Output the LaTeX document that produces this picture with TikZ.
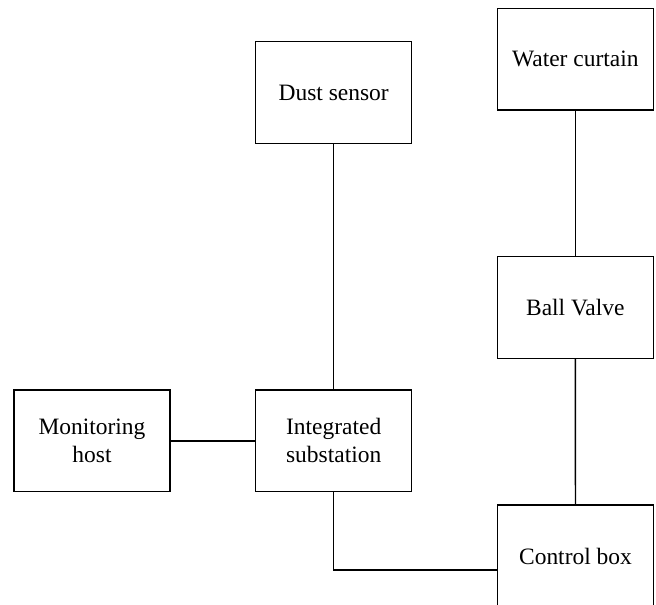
\documentclass[tikz,border=0pt]{standalone}
\usepackage{fontspec}
\setmainfont{Liberation Serif}
\begin{document}
\begin{tikzpicture}[x=0.75pt,y=-0.75pt,
  box/.style={draw,line width=1.1pt,minimum width=117pt,minimum height=76.3pt,inner sep=2pt,align=center,font=\fontsize{17.6}{21}\selectfont},
  conn/.style={line width=1.1pt}]
\useasboundingbox (0,0) rectangle (656,605);
\clip (0,0) rectangle (656,605);
\fill[white] (0,0) rectangle (656,605);
\node[box] (water) at (575.3,59.2) {Water curtain};
\node[box] (dust) at (333.7,92.5) {Dust sensor};
\node[box] (ball) at (575.3,307.5) {Ball Valve};
\node[box] (mon) at (92,440.8) {Monitoring\\host};
\node[box] (int) at (333.7,440.8) {Integrated\\substation};
\node[box,minimum height=77.3pt] (ctrl) at (575.5,556.5) {Control box};
\draw[conn] (water.south) -- (ball.north);
\draw[conn] (ball.south) -- (ctrl.north);
\draw[conn] (dust.south) -- (int.north);
\draw[conn] (mon.east) -- (int.west);
\draw[conn] (int.south) |- ([yshift=-10.1pt]ctrl.west);
\end{tikzpicture}
\end{document}
